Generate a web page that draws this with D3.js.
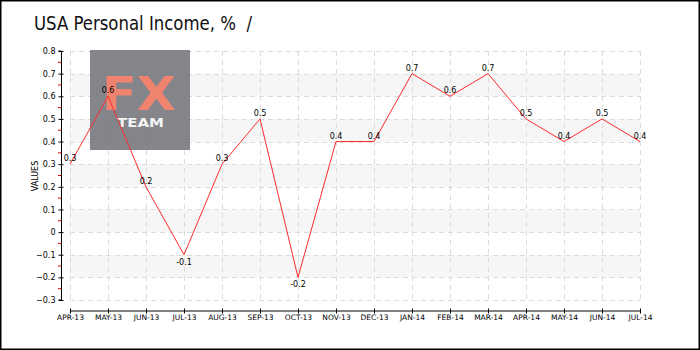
<!DOCTYPE html>
<html>
<head>
<meta charset="utf-8">
<script src="https://cdn.jsdelivr.net/npm/d3@7"></script>
<style>
  body { margin: 0; background: #fff; }
  svg text { font-family: "DejaVu Sans", sans-serif; }
</style>
</head>
<body>
<div id="chart"></div>
<script>
"use strict";

const months = ["APR-13", "MAY-13", "JUN-13", "JUL-13", "AUG-13", "SEP-13", "OCT-13", "NOV-13",
    "DEC-13", "JAN-14", "FEB-14", "MAR-14", "APR-14", "MAY-14", "JUN-14", "JUL-14"];
const values = [0.3, 0.6, 0.2, -0.1, 0.3, 0.5, -0.2, 0.4, 0.4, 0.7, 0.6, 0.7, 0.5, 0.4, 0.5, 0.4];
const yTicks = [-0.3, -0.2, -0.1, 0, 0.1, 0.2, 0.3, 0.4, 0.5, 0.6, 0.7, 0.8];
const titleText = "USA Personal Income, %\u00a0\u00a0/";

const width = 700, height = 350;
const margin = { top: 51, right: 60, bottom: 40, left: 70 };
const axisX = 61;

const svg = d3.select("#chart")
    .append("svg")
    .attr("width", width)
    .attr("height", height);

// frame
svg.append("rect")
    .attr("x", 0.75).attr("y", 0.75)
    .attr("width", width - 1.5).attr("height", height - 1.5)
    .attr("fill", "#fff")
    .attr("stroke", "#000")
    .attr("stroke-width", 1.5);

// title
svg.append("text")
    .attr("x", 34)
    .attr("y", 30)
    .attr("font-size", 20)
    .attr("textLength", 218)
    .attr("lengthAdjust", "spacingAndGlyphs")
    .style("font-family", "'DejaVu Sans Condensed', 'DejaVu Sans', sans-serif")
    .attr("fill", "#111")
    .text(titleText);

const x = d3.scalePoint()
    .domain(months)
    .range([margin.left, width - margin.right]);

const y = d3.scaleLinear()
    .domain([-0.3, 0.8])
    .range([300, margin.top]);

// alternating bands
const bands = yTicks.slice(0, -1).filter((d, i) => i % 2 === 1);
svg.append("g")
    .selectAll("rect")
    .data(bands)
    .enter()
    .append("rect")
    .attr("x", x(months[0]))
    .attr("y", d => y(d + 0.1))
    .attr("width", x(months[months.length - 1]) - x(months[0]))
    .attr("height", d => y(d) - y(d + 0.1))
    .attr("fill", "#f6f6f6");

// grid
const grid = svg.append("g")
    .attr("stroke", "#dcdcdc")
    .attr("stroke-dasharray", "5,4");
grid.selectAll(".h")
    .data(yTicks)
    .enter()
    .append("line")
    .attr("x1", x(months[0]))
    .attr("x2", x(months[months.length - 1]))
    .attr("y1", d => Math.round(y(d)) + 0.5)
    .attr("y2", d => Math.round(y(d)) + 0.5);
grid.selectAll(".v")
    .data(months)
    .enter()
    .append("line")
    .attr("x1", d => Math.round(x(d)) + 0.5)
    .attr("x2", d => Math.round(x(d)) + 0.5)
    .attr("y1", y(0.8))
    .attr("y2", y(-0.3));

// watermark
const wm = svg.append("g").attr("opacity", 0.92);
wm.append("rect")
    .attr("x", 90).attr("y", 50)
    .attr("width", 100).attr("height", 100)
    .attr("fill", "#7b7b83");
wm.append("text")
    .attr("x", 102).attr("y", 110)
    .attr("font-size", 46)
    .attr("font-weight", "bold")
    .attr("textLength", 74)
    .attr("lengthAdjust", "spacingAndGlyphs")
    .attr("fill", "#f07a63")
    .text("FX");
wm.append("text")
    .attr("x", 117).attr("y", 127)
    .attr("font-size", 13)
    .attr("font-weight", "bold")
    .attr("textLength", 47)
    .attr("lengthAdjust", "spacingAndGlyphs")
    .attr("fill", "#f4f4f4")
    .text("TEAM");

// y axis
const yAxis = svg.append("g")
    .attr("transform", "translate(" + (axisX + 0.5) + ",0)")
    .call(d3.axisLeft(y).tickValues(yTicks).tickSize(3).tickFormat(d3.format("")));
yAxis.select(".domain").attr("d", "M-3," + y(0.8) + "H0V" + y(-0.3) + "H-3");
yAxis.selectAll(".tick line").attr("x2", 2).attr("x1", -3);
yAxis.selectAll("text")
    .attr("font-size", 8)
    .attr("x", -6)
    .style("font-family", "'DejaVu Sans', sans-serif");
// minor red ticks
svg.append("g")
    .selectAll("line")
    .data(yTicks.slice(0, -1))
    .enter()
    .append("line")
    .attr("x1", axisX - 3)
    .attr("x2", axisX)
    .attr("y1", d => y(d + 0.05))
    .attr("y2", d => y(d + 0.05))
    .attr("stroke", "#e00000");

// y title
svg.append("text")
    .attr("transform", "translate(38,176) rotate(-90)")
    .attr("text-anchor", "middle")
    .attr("font-size", 8)
    .attr("fill", "#000")
    .text("VALUES");

// x axis
const xAxis = svg.append("g")
    .attr("transform", "translate(0,310.5)")
    .call(d3.axisBottom(x).tickSize(3).tickSizeOuter(0));
xAxis.selectAll(".tick line").attr("y1", -2).attr("y2", 3);
xAxis.selectAll("text")
    .attr("font-size", 7.5)
    .attr("y", 4)
    .style("font-family", "'DejaVu Sans', sans-serif");

// series line
const line = d3.line()
    .x((d, i) => x(months[i]))
    .y(d => y(d));

svg.append("path")
    .datum(values)
    .attr("fill", "none")
    .attr("stroke", "#ff2a2a")
    .attr("stroke-width", 1)
    .attr("d", line);

// value labels
svg.append("g")
    .selectAll("text")
    .data(values)
    .enter()
    .append("text")
    .attr("x", (d, i) => x(months[i]))
    .attr("y", d => d < 0 ? y(d) + 10 : y(d) - 3)
    .attr("text-anchor", "middle")
    .attr("font-size", 8)
    .attr("fill", "#000")
    .text(d => d);
</script>
</body>
</html>
